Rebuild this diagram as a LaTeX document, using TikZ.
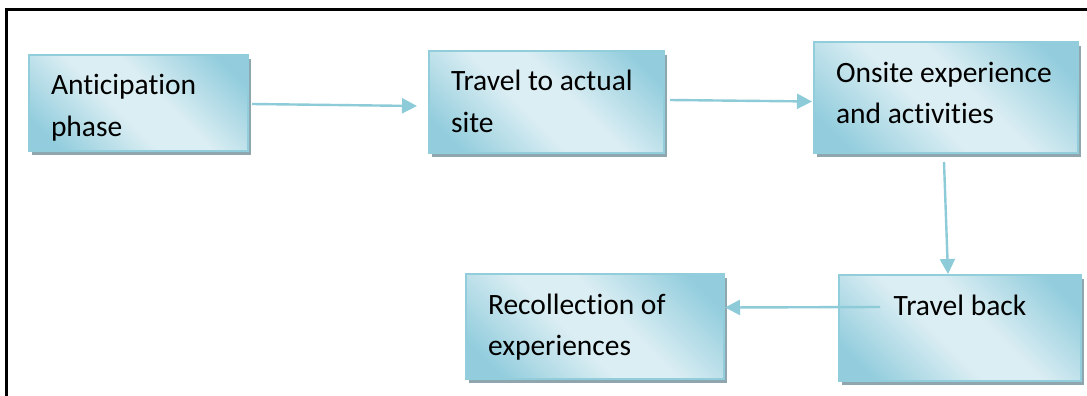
\documentclass[tikz,border=0pt]{standalone}
\usepackage{fontspec}
\setmainfont[Ligatures=NoCommon]{Carlito}
\usepackage{tikz}
\usetikzlibrary{arrows.meta,calc,positioning,shadows}
\usepackage{xcolor}

\definecolor{boxedge}{RGB}{146,205,220}
\definecolor{boxdark}{RGB}{147,205,221}
\definecolor{boxlight}{RGB}{219,238,243}
\definecolor{shadowc}{RGB}{143,166,174}
\definecolor{linkc}{RGB}{142,203,217}

\pgfdeclarehorizontalshading{boxshade}{100bp}{color(0bp)=(boxdark); color(22bp)=(boxdark); color(44bp)=(boxlight); color(56bp)=(boxlight); color(78bp)=(boxdark); color(100bp)=(boxdark)}

% text block in a box: top aligned, first baseline 40pt below the edge
\newcommand{\boxtext}[3]{\parbox[c][#1][t]{#2}{\raggedright\rule{0pt}{40pt}#3}}

\begin{document}
\begin{tikzpicture}[x=1pt, y=-1pt,
  stagebox/.style={draw=boxedge, line width=2pt, shading=boxshade, shading angle=45,
    inner xsep=22pt, inner ysep=0pt, anchor=north west,
    drop shadow={shadow xshift=3pt, shadow yshift=-4pt, fill=shadowc, opacity=1}},
  link/.style={draw=linkc, line width=2.4pt, -{Triangle[length=15pt,width=15pt]}},
  every node/.style={font=\fontsize{29.5}{41.5}\selectfont}]
  \useasboundingbox (0,0) rectangle (1087,396);

  % Frame (only top and left sides are visible)
  \draw[line width=3pt] (1087,10) -- (6,10) -- (6,396);

  % Stages
  \node[stagebox] (antic)  at (28,54)  {\boxtext{96pt}{175pt}{Anticipation\\phase}};
  \node[stagebox] (travto) at (428,50) {\boxtext{102pt}{191pt}{Travel to actual\\site}};
  \node[stagebox] (onsite) at (813,41) {\boxtext{111pt}{220pt}{Onsite experience\\and activities}};
  \node[stagebox] (travbk) at (838,274) {\boxtext{106pt}{198pt}{\centering Travel back}};
  \node[stagebox] (recol)  at (465,273) {\boxtext{105pt}{214pt}{Recollection of\\experiences}};

  % Arrows
  \draw[link] ([xshift=3pt,yshift=-1pt]antic.east) -- ([xshift=-11pt,yshift=-4pt]travto.west);
  \draw[link] ([xshift=5pt,yshift=2pt]travto.east) -- ([xshift=-1pt,yshift=-4pt]onsite.west);
  \draw[link] ([xshift=-2pt,yshift=-8pt]onsite.south) -- ([xshift=-12pt]travbk.north);
  \draw[link] ([xshift=42pt,yshift=21pt]travbk.west) -- ([yshift=19pt]recol.east);
\end{tikzpicture}
\end{document}
